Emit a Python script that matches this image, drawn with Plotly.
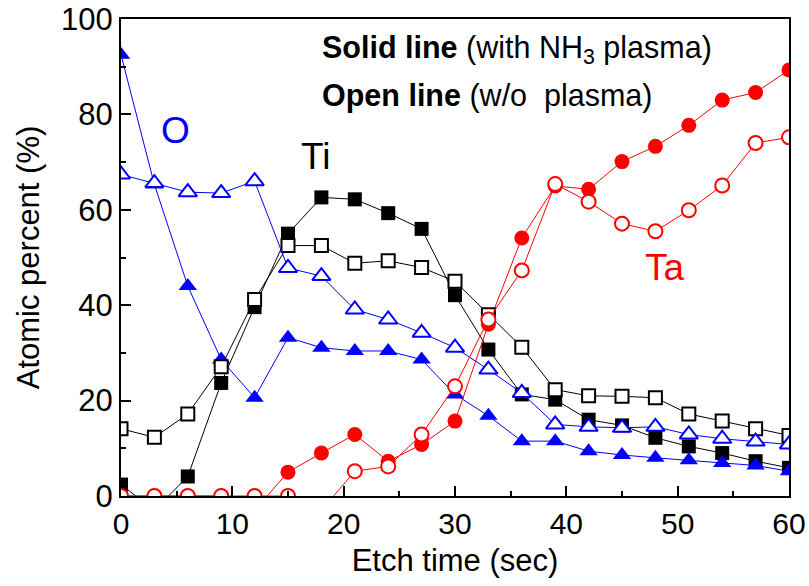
import plotly.graph_objects as go

etch_time = [0, 3, 6, 9, 12, 15, 18, 21, 24, 27, 30, 33, 36, 39, 42, 45, 48, 51, 54, 57, 60]

ti_nh3 = [2.4, -3, 4.1, 23.7, 39.6, 55.0, 62.6, 62.2, 59.3, 56.0, 42.1, 30.7, 21.3, 20.2, 16.0, 14.8, 12.2, 10.4, 9.0, 7.3, 5.9]
ti_none = [14.1, 12.3, 17.2, 27.1, 41.2, 52.5, 52.5, 48.8, 49.3, 47.9, 45.0, 38.0, 31.2, 22.3, 21.0, 20.9, 20.6, 17.2, 15.7, 14.1, 12.7]
o_nh3 = [92.5, 65.3, 44.0, 28.6, 20.6, 33.2, 31.1, 30.4, 30.4, 28.6, 21.3, 16.8, 11.5, 11.5, 9.4, 8.6, 8.0, 7.5, 6.9, 6.4, 5.2]
o_none = [67.4, 65.6, 63.7, 63.5, 66.0, 47.8, 46.1, 39.1, 37.0, 34.2, 31.1, 26.5, 21.6, 15.0, 14.5, 14.3, 14.5, 12.9, 12.0, 11.4, 10.8]
ta_nh3 = [0, 0, 0, 0, -3, 5.0, 9.0, 12.9, 7.3, 10.8, 15.7, 36.0, 54.1, 65.0, 64.3, 70.1, 73.3, 77.7, 83.0, 84.6, 89.3]
ta_none = [0, 0, 0, 0, 0, 0, -3, 5.2, 6.2, 12.9, 23.0, 37.0, 47.3, 65.4, 61.7, 57.1, 55.5, 59.9, 65.1, 74.0, 75.2]

BLUE = "#0000FF"
RED = "#FF0000"
BLACK = "#000000"
FONT = "Liberation Sans, Arial, sans-serif"

fig = go.Figure()

def add(y, color, symbol, size, filled):
    fig.add_trace(go.Scatter(
        x=etch_time, y=y, mode="lines+markers",
        line=dict(color=color, width=1),
        marker=dict(symbol=symbol, size=size,
                    color=color if filled else "white",
                    line=dict(color=color, width=0 if filled else 2)),
        showlegend=False,
    ))

add(ti_nh3, BLACK, "square", 14, True)
add(o_nh3, BLUE, "triangle-up", 16, True)
add(ta_nh3, RED, "circle", 15, True)
add(ti_none, BLACK, "square", 13, False)
add(o_none, BLUE, "triangle-up", 16, False)
add(ta_none, RED, "circle", 14, False)

axis_common = dict(
    showline=True, linecolor="black", linewidth=2, mirror=True,
    ticks="inside", ticklen=10, tickwidth=1.5, tickcolor="black",
    showgrid=False, zeroline=False, automargin=False,
)

fig.update_xaxes(
    range=[0, 60], tickvals=[0, 10, 20, 30, 40, 50, 60],
    minor=dict(dtick=5, ticks="inside", ticklen=5, tickcolor="black", tickwidth=1.5),
    tickfont=dict(family=FONT, size=30, color="black"),
    title=dict(text="Etch time (sec)", font=dict(family=FONT, size=31, color="black"), standoff=10),
    **axis_common,
)
fig.update_yaxes(
    range=[0, 100], tickvals=[0, 20, 40, 60, 80, 100],
    minor=dict(dtick=10, ticks="inside", ticklen=5, tickcolor="black", tickwidth=1.5),
    tickfont=dict(family=FONT, size=31, color="black"),
    title=dict(text="Atomic percent (%)", font=dict(family=FONT, size=31, color="black"), standoff=12),
    **axis_common,
)

annos = [
    dict(x=320, y=50, text="<b>Solid line</b> (with NH<sub>3</sub> plasma)", size=30.5, color=BLACK),
    dict(x=320, y=96, text="<b>Open line</b> (w/o&nbsp; plasma)", size=30.5, color=BLACK),
]
L, R, T, B = 121, 789, 19, 496.5
for a in annos:
    fig.add_annotation(
        x=(a["x"] - L) / (R - L), y=(B - a["y"]) / (B - T), xref="paper", yref="paper",
        xanchor="left", yanchor="middle", text=a["text"], showarrow=False,
        font=dict(family=FONT, size=a["size"], color=a["color"]),
    )

labels = [("O", 175, 131, BLUE), ("Ti", 315, 157, BLACK), ("Ta", 665, 268, RED)]
for txt, px, py, col in labels:
    fig.add_annotation(
        x=(px - L) / (R - L), y=(B - py) / (B - T), xref="paper", yref="paper",
        xanchor="center", yanchor="middle", text=txt, showarrow=False,
        font=dict(family=FONT, size=37, color=col),
    )

fig.update_layout(
    width=809, height=586,
    margin=dict(l=121, r=20, t=19, b=89.5),
    paper_bgcolor="white", plot_bgcolor="white",
)

fig.write_html("out.html")
